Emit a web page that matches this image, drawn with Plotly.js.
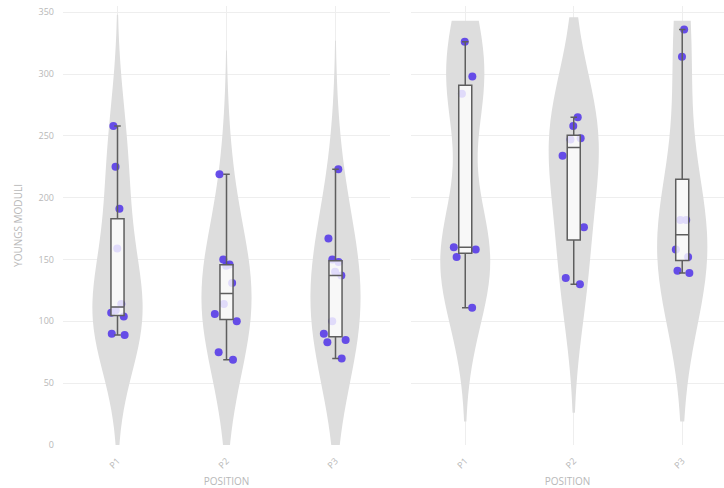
<!DOCTYPE html>
<html><head><meta charset="utf-8">
<script src="https://cdn.plot.ly/plotly-3.0.1.min.js"></script>
<style>html,body{margin:0;padding:0;background:#fff}#chart{width:724px;height:488px}</style>
</head><body><div id="chart"></div>
<script>
var categories = ['P1', 'P2', 'P3'];
var leftP1 = [258, 225, 191, 159, 114, 109, 107, 104, 90, 89];
var leftP2 = [219, 150, 146, 145, 131, 114, 106, 100, 75, 69];
var leftP3 = [223, 167, 150, 148, 140, 137, 100, 90, 85, 83, 70];
var rightP1 = [326, 298, 284, 160, 158, 152, 111];
var rightP2 = [265, 258, 248, 247, 234, 176, 135, 130];
var rightP3 = [336, 314, 182, 182, 158, 152, 141, 139];
var yTicks = [0, 50, 100, 150, 200, 250, 300, 350];
var yTitle = 'YOUNGS MODULI';
var xTitle = 'POSITION';

var groups = [
  {vals: leftP1, cat: 0, xa: 'x', ya: 'y', bw: 45},
  {vals: leftP2, cat: 1, xa: 'x', ya: 'y', bw: 50},
  {vals: leftP3, cat: 2, xa: 'x', ya: 'y', bw: 52},
  {vals: rightP1, cat: 0, xa: 'x2', ya: 'y2', bw: 46, top: 343},
  {vals: rightP2, cat: 1, xa: 'x2', ya: 'y2', bw: 52, top: 346},
  {vals: rightP3, cat: 2, xa: 'x2', ya: 'y2', bw: 60, top: 343}
];

function quantile7(arr, p) {
  var s = arr.slice().sort(function (a, b) { return a - b; });
  var pos = (s.length - 1) * p, lo = Math.floor(pos), fr = pos - lo;
  return lo + 1 < s.length ? s[lo] + fr * (s[lo + 1] - s[lo]) : s[lo];
}

var traces = [];
groups.forEach(function (g) {
  var xs = g.vals.map(function () { return categories[g.cat]; });
  var v = {
    type: 'violin', x: xs, y: g.vals, xaxis: g.xa, yaxis: g.ya,
    showlegend: false, hoverinfo: 'y',
    fillcolor: '#dddddd', line: {width: 0, color: '#dddddd'},
    width: 0.46, bandwidth: g.bw,
    points: 'all', pointpos: 0, jitter: 0.55,
    marker: {color: 'rgb(88,60,232)', size: 8, opacity: 0.9},
    box: {visible: false}, meanline: {visible: false}
  };
  if (g.top) {
    var mn = Math.min.apply(null, g.vals);
    v.spanmode = 'manual';
    v.span = [mn - 2 * g.bw, g.top];
  }
  traces.push(v);
});
groups.forEach(function (g) {
  traces.push({
    type: 'box', x: [categories[g.cat]], xaxis: g.xa, yaxis: g.ya,
    q1: [quantile7(g.vals, 0.25)], median: [quantile7(g.vals, 0.5)], q3: [quantile7(g.vals, 0.75)],
    lowerfence: [Math.min.apply(null, g.vals)], upperfence: [Math.max.apply(null, g.vals)],
    showlegend: false, hoverinfo: 'skip',
    boxpoints: false, width: 0.12,
    fillcolor: 'rgba(255,255,255,0.8)',
    line: {color: '#5e5e5e', width: 1.5}
  });
});

var tickFont = {family: 'Open Sans, sans-serif', size: 9, color: '#b8b8b8'};
var xBase = {
  type: 'category', categoryorder: 'array', categoryarray: categories,
  tickangle: -45, tickfont: tickFont, showgrid: true, gridcolor: '#eeeeee',
  zeroline: false, showline: false, ticks: '', ticklabelstandoff: 8,
  title: {text: xTitle, font: {family: 'Open Sans, sans-serif', size: 10, color: '#b8b8b8'}, standoff: 21}
};
var layout = {
  width: 724, height: 488,
  margin: {l: 0, r: 0, t: 6, b: 43},
  paper_bgcolor: '#fff', plot_bgcolor: '#fff',
  violinmode: 'overlay', boxmode: 'overlay',
  xaxis: Object.assign({}, xBase, {domain: [63 / 724, 390 / 724], range: [-0.5, 2.5], anchor: 'y'}),
  xaxis2: Object.assign({}, xBase, {domain: [411 / 724, 1], range: [-0.5, 2.385], anchor: 'y2'}),
  yaxis: {
    range: [0, 355], tickvals: yTicks, tickfont: tickFont, showgrid: true, gridcolor: '#eeeeee',
    zeroline: false, showline: false, ticks: '', ticklabelstandoff: 8,
    title: {text: yTitle, font: {family: 'Open Sans, sans-serif', size: 10, color: '#b8b8b8'}, standoff: 14}
  },
  yaxis2: {
    range: [0, 355], tickvals: yTicks, showticklabels: false, showgrid: true, gridcolor: '#eeeeee',
    zeroline: false, showline: false, ticks: '', anchor: 'x2', matches: 'y'
  }
};
Plotly.newPlot('chart', traces, layout, {staticPlot: true});
</script></body></html>
